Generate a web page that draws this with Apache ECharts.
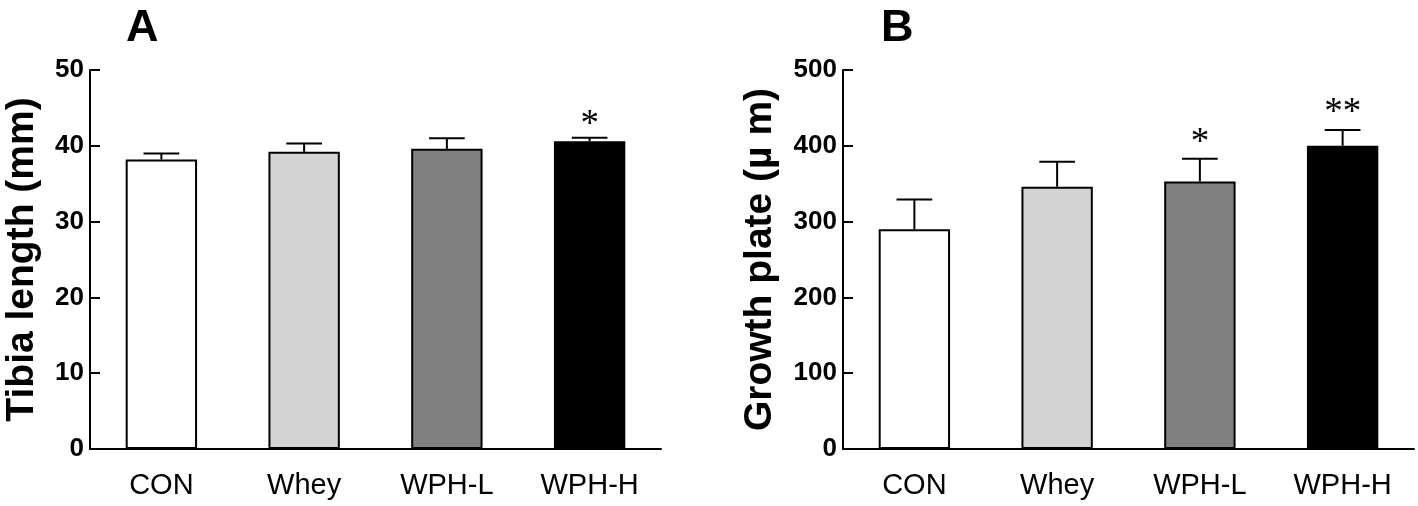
<!DOCTYPE html>
<html>
<head>
<meta charset="utf-8">
<script src="https://cdn.jsdelivr.net/npm/echarts@6/dist/echarts.min.js"></script>
<style>
html,body{margin:0;padding:0;background:#fff;}
#chart{width:1418px;height:506px;}
</style>
</head>
<body>
<div id="chart"></div>
<script>
// ---- data ----
const categories = ['CON', 'Whey', 'WPH-L', 'WPH-H'];
const barColors = ['#ffffff', '#d3d3d3', '#808080', '#000000'];

const tibiaMean = [38.2, 39.2, 39.6, 40.6];
const tibiaErr  = [0.8, 1.1, 1.4, 0.45];
const tibiaStarCats = [3];
const tibiaStarY = [43.7];
const tibiaStarText = ['*'];

const plateMean = [290, 346, 353, 400];
const plateErr  = [39, 33, 30, 21];
const plateStarCats = [2, 3];
const plateStarY = [414, 454];
const plateStarText = ['*', '**'];

const tibiaTicks = [0, 10, 20, 30, 40, 50];
const plateTicks = [0, 100, 200, 300, 400, 500];

const SANS = "'Liberation Sans', Arial, Helvetica, sans-serif";
const SERIF = "'Liberation Serif', 'Times New Roman', serif";

function barData(means) {
  return means.map((v, i) => ({
    value: v,
    itemStyle: { color: barColors[i], borderColor: '#000', borderWidth: 2 }
  }));
}
function errData(means, errs) {
  return means.map((v, i) => [i, v, errs[i]]);
}
function errRender(params, api) {
  const x = api.value(0), y = api.value(1), e = api.value(2);
  const base = api.coord([x, y]);
  const top = api.coord([x, y + e]);
  const w = api.size([1, 0])[0] * 0.25;
  return {
    type: 'group',
    children: [
      { type: 'line', shape: { x1: base[0], y1: base[1], x2: top[0], y2: top[1] },
        style: { stroke: '#000', lineWidth: 2 } },
      { type: 'line', shape: { x1: top[0] - w / 2, y1: top[1], x2: top[0] + w / 2, y2: top[1] },
        style: { stroke: '#000', lineWidth: 2 } }
    ]
  };
}
function starRenderer(texts) {
  return function (params, api) {
    const p = api.coord([api.value(0), api.value(1)]);
    return {
      type: 'text',
      x: p[0], y: p[1] + 8,
      style: {
        text: texts[params.dataIndex],
        fontFamily: SERIF, fontSize: 37, fill: '#000',
        align: 'center', verticalAlign: 'middle'
      }
    };
  };
}

function yAxis(gridIndex, name, ticks, nameGap) {
  return {
    type: 'value', gridIndex: gridIndex,
    min: ticks[0], max: ticks[ticks.length - 1], interval: ticks[1] - ticks[0],
    name: name, nameLocation: 'middle', nameGap: nameGap,
    nameTextStyle: { fontFamily: SANS, fontWeight: 'bold', fontSize: 39, color: '#000' },
    axisLine: { show: true, lineStyle: { color: '#000', width: 2 } },
    axisTick: { show: true, inside: true, length: 10, lineStyle: { color: '#000', width: 2 } },
    axisLabel: { fontFamily: SANS, fontWeight: 'bold', fontSize: 26, color: '#000', margin: 6 },
    splitLine: { show: false }
  };
}
function xAxis(gridIndex) {
  return {
    type: 'category', gridIndex: gridIndex, data: categories,
    axisLine: { show: true, lineStyle: { color: '#000', width: 2 } },
    axisTick: { show: false },
    axisLabel: { fontFamily: SANS, fontSize: 29, color: '#000', margin: 22 }
  };
}

const chart = echarts.init(document.getElementById('chart'), null, { renderer: 'canvas' });
chart.setOption({
  backgroundColor: '#ffffff',
  animation: false,
  title: [
    { text: 'A', left: 121, top: 1,
      textStyle: { fontFamily: SANS, fontWeight: 'bold', fontSize: 45, color: '#000' } },
    { text: 'B', left: 876, top: 1,
      textStyle: { fontFamily: SANS, fontWeight: 'bold', fontSize: 45, color: '#000' } }
  ],
  grid: [
    { left: 90, top: 70, width: 571, height: 379 },
    { left: 843, top: 70, width: 571, height: 379 }
  ],
  xAxis: [xAxis(0), xAxis(1)],
  yAxis: [
    yAxis(0, 'Tibia length (mm)', tibiaTicks, 48),
    yAxis(1, 'Growth plate (\u00b5 m)', plateTicks, 63)
  ],
  series: [
    { type: 'bar', xAxisIndex: 0, yAxisIndex: 0, barWidth: '50%', data: barData(tibiaMean), z: 2 },
    { type: 'custom', xAxisIndex: 0, yAxisIndex: 0, renderItem: errRender,
      data: errData(tibiaMean, tibiaErr), z: 3 },
    { type: 'custom', xAxisIndex: 0, yAxisIndex: 0, renderItem: starRenderer(tibiaStarText),
      data: tibiaStarCats.map((c, i) => [c, tibiaStarY[i]]), z: 4 },
    { type: 'bar', xAxisIndex: 1, yAxisIndex: 1, barWidth: '50%', data: barData(plateMean), z: 2 },
    { type: 'custom', xAxisIndex: 1, yAxisIndex: 1, renderItem: errRender,
      data: errData(plateMean, plateErr), z: 3 },
    { type: 'custom', xAxisIndex: 1, yAxisIndex: 1, renderItem: starRenderer(plateStarText),
      data: plateStarCats.map((c, i) => [c, plateStarY[i]]), z: 4 }
  ]
});
</script>
</body>
</html>
